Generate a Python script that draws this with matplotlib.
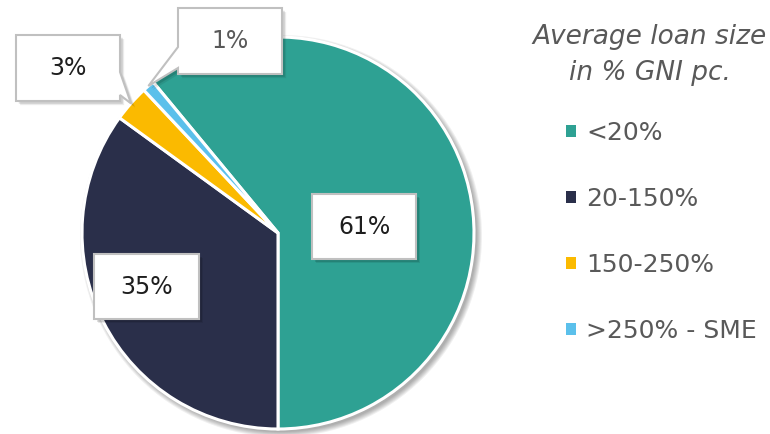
import numpy as np
import matplotlib.pyplot as plt
from matplotlib.patches import Circle, Polygon, Patch
import matplotlib.patheffects as pe

# loan size distribution
categories = ['<20%', '20-150%', '150-250%', '>250% - SME']
shares = [61, 35, 3, 1]
pct_labels = ['61%', '35%', '3%', '1%']
colors = ['#2ea193', '#2a2f4a', '#fbba00', '#5bc0eb']

plt.rcParams['font.family'] = ['DejaVu Sans']

W, H = 770, 434
fig = plt.figure(figsize=(W / 100, H / 100), dpi=100)
ax = fig.add_axes([0, 0, 1, 1])

cx, cy, r = 278, H - 233, 196

# soft drop shadow under the pie
for k, rr in enumerate(np.linspace(r + 5, r, 6)):
    ax.add_patch(Circle((cx + 3, cy - 3), rr, facecolor='black', edgecolor='none',
                        alpha=0.06, zorder=0))

start = -90 + 360 * shares[0] / sum(shares)
wedges, _ = ax.pie(shares, colors=colors, startangle=start, counterclock=False,
                   center=(cx, cy), radius=r,
                   wedgeprops=dict(edgecolor='white', linewidth=2.2))
ax.set_xlim(0, W)
ax.set_ylim(0, H)
ax.set_aspect('equal')
ax.axis('off')

# label boxes: (left, top, right, bottom) in pixels from the top, pointer side
boxes = [
    ((312, 194, 416, 259), None, None),
    ((94, 254, 199, 319), None, None),
    ((16, 35, 120, 101), 'right', (72, 95)),
    ((178, 8, 282, 74), 'left', (47, 68)),
]
text_colors = ['#1e1e1e', '#1e1e1e', '#1e1e1e', '#595959']


def tip_point(w):
    mid = np.deg2rad((w.theta1 + w.theta2) / 2)
    return cx + r * np.cos(mid), cy + r * np.sin(mid)


for w, lab, (box, side, base), tc in zip(wedges, pct_labels, boxes, text_colors):
    L, T, R, B = box
    T, B = H - T, H - B
    if side == 'right':
        tx, ty = tip_point(w)
        verts = [(L, T), (R, T), (R, H - base[0]), (tx, ty), (R, H - base[1]), (R, B), (L, B)]
    elif side == 'left':
        tx, ty = tip_point(w)
        verts = [(L, T), (R, T), (R, B), (L, B), (L, H - base[1]), (tx, ty), (L, H - base[0])]
    else:
        verts = [(L, T), (R, T), (R, B), (L, B)]
    poly = Polygon(verts, closed=True, facecolor='white', edgecolor='#c0c0c0',
                   linewidth=1.5, zorder=5)
    poly.set_path_effects([
        pe.SimplePatchShadow(offset=(3, -3), shadow_rgbFace='black', alpha=0.08),
        pe.SimplePatchShadow(offset=(2, -2), shadow_rgbFace='black', alpha=0.12),
        pe.Normal(),
    ])
    ax.add_patch(poly)
    ax.text((L + R) / 2, (T + B) / 2, lab, ha='center', va='center',
            fontsize=17, color=tc, zorder=6)

# legend title drawn on its own so the entries can sit further right
fig.text(650 / W, 1 - 55 / H, 'Average loan size\nin % GNI pc.', ha='center', va='center',
         fontsize=19, fontstyle='italic', color='#595959', linespacing=1.5,
         multialignment='center')

handles = [Patch(facecolor=c, edgecolor='none') for c in colors]
leg = fig.legend(handles, categories, loc='upper left',
                 bbox_to_anchor=(566 / W, 1 - 121 / H),
                 frameon=False, fontsize=18,
                 handlelength=0.4, handleheight=0.4, handletextpad=0.4,
                 labelspacing=1.68, borderpad=0, borderaxespad=0,
                 labelcolor='#595959')

fig.savefig('out.png', dpi=100)
